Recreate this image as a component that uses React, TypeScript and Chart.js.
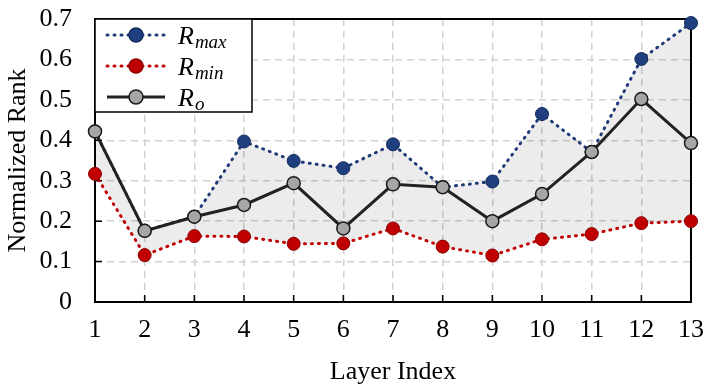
import React, { useEffect, useRef } from 'react';
import { Chart, registerables } from 'chart.js';

Chart.register(...registerables);

const layers = ['1', '2', '3', '4', '5', '6', '7', '8', '9', '10', '11', '12', '13'];
const rMax = [0.422, 0.176, 0.211, 0.397, 0.349, 0.331, 0.39, 0.284, 0.298, 0.465, 0.371, 0.601, 0.69];
const rMin = [0.317, 0.116, 0.163, 0.162, 0.144, 0.145, 0.182, 0.137, 0.115, 0.155, 0.168, 0.195, 0.2];
const rO = [0.422, 0.176, 0.211, 0.24, 0.294, 0.182, 0.291, 0.284, 0.2, 0.267, 0.371, 0.502, 0.393];
const yMin = 0;
const yMax = 0.7;
const yStep = 0.1;

const SERIF = '"Liberation Serif", "Times New Roman", serif';

const legendItems = [
  { sub: 'max', line: '#1f3a78', dash: [1, 6], fill: '#1f3f7f', border: '#132a5a' },
  { sub: 'min', line: '#c00000', dash: [1, 6], fill: '#c00000', border: '#8a0000' },
  { sub: 'o', line: '#222222', dash: [], fill: '#a6a6a6', border: '#1a1a1a' },
];

const framePlugin = {
  id: 'frame',
  beforeDatasetsDraw(chart: any) {
    const { ctx, chartArea } = chart;
    const { left, right, top, bottom } = chartArea;
    const x = chart.scales.x;
    const y = chart.scales.y;
    ctx.save();
    ctx.strokeStyle = '#000';
    ctx.lineWidth = 2;
    ctx.strokeRect(left, top, right - left, bottom - top);
    ctx.lineWidth = 1.5;
    ctx.beginPath();
    x.ticks.forEach((_: any, i: number) => {
      const px = x.getPixelForTick(i);
      ctx.moveTo(px, bottom);
      ctx.lineTo(px, bottom - 7);
    });
    y.ticks.forEach((_: any, i: number) => {
      const py = y.getPixelForTick(i);
      ctx.moveTo(left, py);
      ctx.lineTo(left + 7, py);
    });
    ctx.stroke();
    ctx.restore();
  },
  afterDraw(chart: any) {
    const { ctx, chartArea } = chart;
    const bx = chartArea.left;
    const by = chartArea.top;
    const bw = 157;
    const bh = 93;
    ctx.save();
    ctx.fillStyle = '#fff';
    ctx.fillRect(bx, by, bw, bh);
    ctx.strokeStyle = '#000';
    ctx.lineWidth = 1.5;
    ctx.strokeRect(bx, by, bw, bh);
    legendItems.forEach((it, i) => {
      const cy = by + 16 + i * 31;
      ctx.beginPath();
      ctx.setLineDash(it.dash);
      ctx.lineCap = it.dash.length ? 'round' : 'butt';
      ctx.strokeStyle = it.line;
      ctx.lineWidth = 3;
      ctx.moveTo(bx + 12, cy);
      ctx.lineTo(bx + 70, cy);
      ctx.stroke();
      ctx.setLineDash([]);
      ctx.beginPath();
      ctx.arc(bx + 41, cy, 7, 0, Math.PI * 2);
      ctx.fillStyle = it.fill;
      ctx.fill();
      ctx.lineWidth = 1.5;
      ctx.strokeStyle = it.border;
      ctx.stroke();
      ctx.fillStyle = '#000';
      ctx.textBaseline = 'alphabetic';
      ctx.textAlign = 'left';
      ctx.font = `italic 26px ${SERIF}`;
      ctx.fillText('R', bx + 83, cy + 9);
      const w = ctx.measureText('R').width;
      ctx.font = `italic 19px ${SERIF}`;
      ctx.fillText(it.sub, bx + 83 + w + 1, cy + 13);
    });
    ctx.restore();
  },
};

export default function App() {
  const ref = useRef<HTMLCanvasElement | null>(null);
  useEffect(() => {
    if (!ref.current) return;
    const chart = new Chart(ref.current, {
      type: 'line',
      data: {
        labels: layers,
        datasets: [
          {
            label: 'Rmax',
            data: rMax,
            borderColor: '#1f3a78',
            borderWidth: 3,
            borderDash: [1, 6],
            borderCapStyle: 'round',
            pointRadius: 6.5,
            pointBackgroundColor: '#1f3f7f',
            pointBorderColor: '#132a5a',
            pointBorderWidth: 1,
            fill: '+1',
            backgroundColor: 'rgba(0,0,0,0.075)',
            tension: 0,
            order: 2,
            clip: false,
          },
          {
            label: 'Rmin',
            data: rMin,
            borderColor: '#c00000',
            borderWidth: 3,
            borderDash: [1, 6],
            borderCapStyle: 'round',
            pointRadius: 6.5,
            pointBackgroundColor: '#c00000',
            pointBorderColor: '#8a0000',
            pointBorderWidth: 1,
            fill: false,
            tension: 0,
            order: 1,
            clip: false,
          },
          {
            label: 'Ro',
            data: rO,
            borderColor: '#222222',
            borderWidth: 3,
            pointRadius: 6.5,
            pointBackgroundColor: '#a6a6a6',
            pointBorderColor: '#1a1a1a',
            pointBorderWidth: 1.5,
            fill: false,
            tension: 0,
            order: 0,
            clip: false,
          },
        ],
      },
      options: {
        responsive: false,
        animation: false,
        layout: { autoPadding: false, padding: { top: 19, right: 15, left: 0, bottom: 0 } },
        plugins: { legend: { display: false }, tooltip: { enabled: false } },
        scales: {
          x: {
            type: 'category',
            offset: false,
            grid: { color: '#d2d2d2', lineWidth: 1.5, drawTicks: false },
            border: { display: false, dash: [7, 5] },
            ticks: { color: '#000', font: { family: SERIF, size: 26 }, padding: 13, maxRotation: 0, autoSkip: false },
            title: { display: true, text: 'Layer Index', color: '#000', font: { family: SERIF, size: 26 }, padding: { top: 0, bottom: 0 } },
            afterFit: (s: any) => {
              s.height = 86;
              s.paddingLeft = 0;
              s.paddingRight = 0;
            },
          },
          y: {
            min: yMin,
            max: yMax,
            grid: { color: '#d2d2d2', lineWidth: 1.5, drawTicks: false },
            border: { display: false, dash: [7, 5] },
            ticks: {
              stepSize: yStep,
              color: '#000',
              font: { family: SERIF, size: 26 },
              padding: 23,
              callback: (v: any) => (Number(v) === 0 ? '0' : Number(v).toFixed(1)),
            },
            title: { display: true, text: 'Normalized Rank', color: '#000', font: { family: SERIF, size: 26 }, padding: { top: 3, bottom: 0 } },
            afterFit: (s: any) => {
              s.width = 95;
              s.paddingTop = 0;
              s.paddingBottom = 0;
            },
          },
        },
      },
      plugins: [framePlugin],
    } as any);
    return () => chart.destroy();
  }, []);
  return (
    <div style={{ position: 'fixed', left: 0, top: 0, width: 706, height: 388, background: '#fff' }}>
      <canvas ref={ref} width={706} height={388} />
    </div>
  );
}
